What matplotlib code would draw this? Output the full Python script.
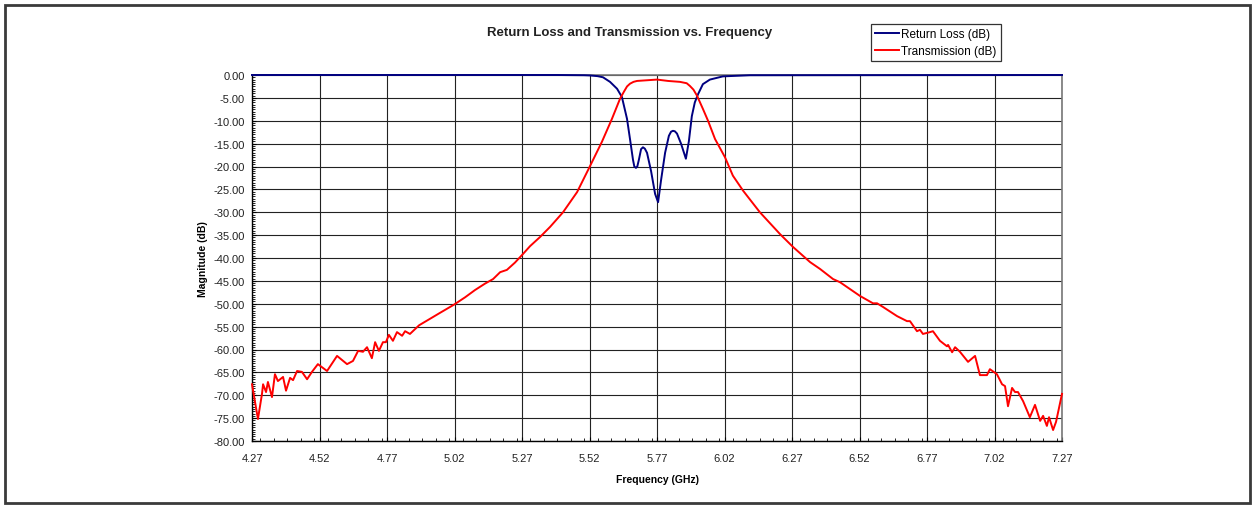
import matplotlib
matplotlib.use("Agg")
import matplotlib.pyplot as plt
from matplotlib.patches import Rectangle
from matplotlib.ticker import MultipleLocator, FormatStrFormatter

plt.rcParams['font.family'] = ['Liberation Sans', 'DejaVu Sans']

# Return loss (blue)
rl_freq = [4.270, 5.400, 5.500, 5.522, 5.550, 5.570, 5.596, 5.622, 5.640, 5.659,
           5.670, 5.681, 5.686, 5.692, 5.697, 5.703, 5.711, 5.718, 5.725, 5.733,
           5.748, 5.763, 5.774, 5.785, 5.800, 5.814, 5.822, 5.829, 5.836, 5.844,
           5.859, 5.877, 5.888, 5.899, 5.910, 5.922, 5.940, 5.966, 6.014, 6.114,
           7.270]
rl_db = [0.0, 0.0, -0.05, -0.1, -0.25, -0.5, -1.5, -3.0, -4.8, -9.6,
         -14.0, -18.5, -20.0, -20.3, -20.0, -18.5, -16.2, -15.8, -16.1, -17.0,
         -21.0, -26.0, -27.8, -23.0, -17.0, -13.3, -12.4, -12.2, -12.3, -12.8,
         -15.0, -18.3, -14.5, -9.0, -6.0, -4.2, -2.0, -1.0, -0.3, -0.05,
         0.0]

# Transmission (red)
tr_freq = [4.270, 4.292, 4.307, 4.311, 4.322, 4.329, 4.344, 4.355, 4.366, 4.385,
           4.396, 4.411, 4.422, 4.437, 4.455, 4.474, 4.492, 4.514, 4.548, 4.585,
           4.622, 4.644, 4.663, 4.681, 4.696, 4.714, 4.726, 4.740, 4.755, 4.766,
           4.777, 4.792, 4.807, 4.826, 4.837, 4.855, 4.889, 4.929, 4.966, 5.018,
           5.059, 5.096, 5.133, 5.163, 5.189, 5.214, 5.244, 5.274, 5.300, 5.337,
           5.374, 5.422, 5.474, 5.522, 5.566, 5.603, 5.633, 5.648, 5.659, 5.670,
           5.683, 5.696, 5.733, 5.770, 5.811, 5.855, 5.880, 5.892, 5.905, 5.918,
           5.940, 5.959, 5.985, 6.022, 6.051, 6.089, 6.151, 6.226, 6.274, 6.337,
           6.374, 6.422, 6.448, 6.522, 6.570, 6.585, 6.607, 6.659, 6.696, 6.707,
           6.733, 6.744, 6.755, 6.781, 6.792, 6.818, 6.844, 6.848, 6.863, 6.874,
           6.892, 6.922, 6.948, 6.966, 6.992, 7.003, 7.029, 7.048, 7.059, 7.070,
           7.085, 7.096, 7.107, 7.126, 7.151, 7.170, 7.189, 7.200, 7.214, 7.222,
           7.237, 7.248, 7.270]
tr_db = [-67.6, -75.2, -69.7, -67.6, -69.3, -67.1, -70.4, -65.4, -66.9, -66.0,
         -69.0, -66.2, -66.7, -64.7, -64.9, -66.5, -64.9, -63.2, -64.7, -61.4,
         -63.2, -62.5, -60.3, -60.5, -59.5, -61.9, -58.4, -60.3, -58.4, -58.4,
         -56.8, -58.1, -56.2, -57.0, -56.0, -56.6, -54.7, -53.3, -52.0, -50.2,
         -48.6, -47.0, -45.6, -44.6, -43.1, -42.6, -41.0, -39.1, -37.4, -35.4,
         -33.2, -30.0, -25.6, -19.9, -14.6, -9.6, -5.2, -3.6, -2.5, -1.9,
         -1.5, -1.3, -1.15, -1.0, -1.3, -1.5, -1.8, -2.4, -3.2, -4.5,
         -7.4, -10.0, -14.0, -18.0, -22.0, -25.3, -30.0, -34.8, -37.6, -40.9,
         -42.4, -44.6, -45.3, -48.3, -49.9, -49.9, -50.7, -52.7, -53.8, -53.8,
         -56.0, -55.7, -56.6, -56.2, -56.0, -58.1, -59.3, -59.0, -60.6, -59.5,
         -60.5, -62.7, -61.4, -65.6, -65.6, -64.3, -65.4, -67.6, -68.0, -72.4,
         -68.4, -69.3, -69.3, -71.3, -74.8, -72.1, -75.6, -74.5, -76.7, -74.8,
         -77.6, -75.8, -69.7]

x_ticks = [4.27, 4.52, 4.77, 5.02, 5.27, 5.52, 5.77, 6.02, 6.27, 6.52, 6.77, 7.02, 7.27]

W, H = 1252, 506
fig = plt.figure(figsize=(W / 100, H / 100), dpi=100)
fig.patch.set_facecolor('white')

# outer frame
fig.patches.append(Rectangle((5 / W, 2 / H), (W - 7) / W, (H - 8) / H,
                             transform=fig.transFigure, fill=False,
                             edgecolor='#3a3a3a', linewidth=2))

ax = fig.add_axes([252 / W, 1 - 442 / H, 810 / W, 366 / H])

ax.plot(rl_freq, rl_db, color='#000080', lw=1.4, label='Return Loss (dB)', clip_on=False, zorder=3)
ax.plot(tr_freq, tr_db, color='#ff0000', lw=1.4, label='Transmission (dB)', clip_on=False, zorder=4)

ax.set_xlim(4.27, 7.27)
ax.set_ylim(-80, 0)
ax.set_xticks(x_ticks)
ax.xaxis.set_major_formatter(FormatStrFormatter('%.2f'))
ax.xaxis.set_minor_locator(MultipleLocator(0.05))
ax.yaxis.set_major_locator(MultipleLocator(5))
ax.yaxis.set_minor_locator(MultipleLocator(0.5))
ax.yaxis.set_major_formatter(FormatStrFormatter('%.2f'))

ax.tick_params(which='both', direction='in', labelsize=8, color='black', labelcolor='#222222')
ax.tick_params(which='major', length=3, width=0.8)
ax.tick_params(which='minor', length=2.5, width=0.6)
ax.tick_params(axis='x', which='major', pad=9)
ax.tick_params(axis='y', which='major', pad=5)

ax.grid(True, which='major', color='#222222', linewidth=0.8)
for side in ['top', 'right']:
    ax.spines[side].set_color('#777777')
    ax.spines[side].set_linewidth(1.2)
for side in ['left', 'bottom']:
    ax.spines[side].set_linewidth(1.0)

ax.set_xlabel('Frequency (GHz)', fontsize=7.5, fontweight='bold', labelpad=7.5)
ax.set_ylabel('Magnitude (dB)', fontsize=7.5, fontweight='bold', labelpad=4)

fig.text(630 / W, 1 - 33 / H, 'Return Loss and Transmission vs. Frequency',
         ha='center', va='center', fontsize=9.5, fontweight='bold', color='#222222')

leg = fig.legend(loc='upper left', bbox_to_anchor=(871 / W, 1 - 25 / H),
                 fontsize=8.5, frameon=True, fancybox=False, handlelength=2.0,
                 handletextpad=0.2, labelspacing=0.4, borderpad=0.35,
                 borderaxespad=0)
leg.get_frame().set_edgecolor('black')
leg.get_frame().set_linewidth(0.9)

fig.savefig('out.png', dpi=100)
